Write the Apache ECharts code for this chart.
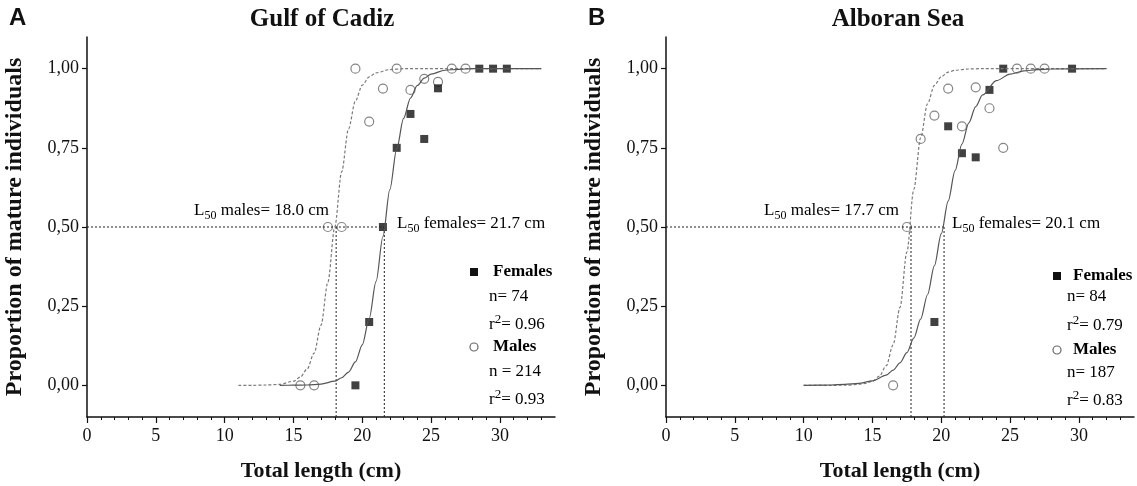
<!DOCTYPE html>
<html>
<head>
<meta charset="utf-8">
<title>L50 maturity ogives</title>
<script src="https://cdn.jsdelivr.net/npm/echarts@6/dist/echarts.min.js"></script>
<style>
  body { margin: 0; background: #fff; }
  #main { width: 1137px; height: 486px; }
</style>
</head>
<body>
<div id="main"></div>
<script>
// Gulf of Cadiz (panel A) - observed proportions [total length, proportion]
var gulfFemales = [[19.5, 0], [20.5, 0.2], [21.5, 0.5], [22.5, 0.75], [23.5, 0.857], [24.5, 0.778], [25.5, 0.938], [28.5, 1], [29.5, 1], [30.5, 1]]
var gulfMales = [[15.5, 0], [16.5, 0], [17.5, 0.5], [18.5, 0.5], [19.5, 1], [20.5, 0.833], [21.5, 0.937], [22.5, 1], [23.5, 0.933], [24.5, 0.968], [25.5, 0.958], [26.5, 1], [27.5, 1]]
// fitted ogives
var gulfFemaleFit = [[14, 0], [15, 0.0004], [16, 0.001], [17, 0.004], [18, 0.013], [18.5, 0.024], [19, 0.042], [19.5, 0.074], [20, 0.128], [20.5, 0.211], [21, 0.328], [21.5, 0.47], [22, 0.618], [22.5, 0.747], [23, 0.843], [23.5, 0.907], [24, 0.947], [24.5, 0.97], [25, 0.983], [26, 0.995], [27, 0.998], [28, 1], [33, 1]]
var gulfMaleFit = [[11, 0], [12, 0], [13, 0.001], [14, 0.003], [15, 0.013], [15.5, 0.026], [16, 0.052], [16.5, 0.102], [17, 0.19], [17.5, 0.326], [18, 0.5], [18.5, 0.674], [19, 0.81], [19.5, 0.898], [20, 0.948], [20.5, 0.974], [21, 0.987], [22, 0.997], [23, 1], [33, 1]]
var gulfL50 = [18.1, 21.6] // males, females (positions of the dotted guides)

// Alboran Sea (panel B)
var alboranFemales = [[19.5, 0.2], [20.5, 0.818], [21.5, 0.733], [22.5, 0.72], [23.5, 0.933], [24.5, 1], [29.5, 1]]
var alboranMales = [[16.5, 0], [17.5, 0.5], [18.5, 0.778], [19.5, 0.852], [20.5, 0.937], [21.5, 0.818], [22.5, 0.941], [23.5, 0.875], [24.5, 0.75], [25.5, 1], [26.5, 1], [27.5, 1]]
var alboranFemaleFit = [[10, 0], [11, 0.0005], [12, 0.001], [13, 0.003], [14, 0.006], [15, 0.014], [16, 0.032], [16.5, 0.048], [17, 0.071], [17.5, 0.103], [18, 0.149], [18.5, 0.209], [19, 0.286], [19.5, 0.378], [20, 0.479], [20.5, 0.582], [21, 0.678], [21.5, 0.762], [22, 0.829], [22.5, 0.88], [23, 0.917], [24, 0.962], [25, 0.983], [26, 0.993], [27, 0.997], [28, 0.999], [32, 1]]
var alboranMaleFit = [[10, 0], [12, 0], [13, 0.0005], [14, 0.003], [14.5, 0.006], [15, 0.013], [15.5, 0.029], [16, 0.062], [16.5, 0.128], [17, 0.246], [17.5, 0.421], [18, 0.618], [18.5, 0.782], [19, 0.889], [19.5, 0.947], [20, 0.975], [20.5, 0.989], [21, 0.995], [22, 0.999], [23, 1], [32, 1]]
var alboranL50 = [17.8, 20.2]

var xMajorTicks = [0, 5, 10, 15, 20, 25, 30]
var xMinorTicks = [1, 2, 3, 4, 6, 7, 8, 9, 11, 12, 13, 14, 16, 17, 18, 19, 21, 22, 23, 24, 26, 27, 28, 29, 31, 32, 33]
var yTicks = [0, 0.25, 0.5, 0.75, 1]

var serif = 'Liberation Serif'
var ink = '#111'

var chart = echarts.init(document.getElementById('main'))

function xAxisFor (grid) {
  return [{
    type: 'value', gridIndex: grid, min: 0, max: 34,
    name: 'Total length (cm)', nameLocation: 'middle', nameGap: 43,
    nameTextStyle: { fontFamily: serif, fontWeight: 'bold', fontSize: 22, color: ink },
    axisLine: { onZero: false, lineStyle: { color: ink, width: 1.5 } },
    axisTick: { customValues: xMajorTicks, length: 6, lineStyle: { color: ink, width: 1.2 } },
    axisLabel: { customValues: xMajorTicks, fontFamily: serif, fontSize: 18, color: ink, margin: 10 },
    splitLine: { show: false }
  }, {
    // second axis on the same grid, only for the minor ticks
    type: 'value', gridIndex: grid, min: 0, max: 34, position: 'bottom',
    axisLine: { show: false, onZero: false },
    axisTick: { customValues: xMinorTicks, length: 3, lineStyle: { color: ink, width: 1 } },
    axisLabel: { show: false },
    splitLine: { show: false }
  }]
}

function yAxisFor (grid) {
  return {
    type: 'value', gridIndex: grid, min: -0.1, max: 1.1,
    name: 'Proportion of mature individuals', nameLocation: 'middle', nameGap: 60,
    nameTextStyle: { fontFamily: serif, fontWeight: 'bold', fontSize: 24, color: ink },
    axisLine: { onZero: false, lineStyle: { color: ink, width: 1.5 } },
    axisTick: { customValues: yTicks, length: 5, lineStyle: { color: ink, width: 1.2 } },
    axisLabel: {
      customValues: yTicks, fontFamily: serif, fontSize: 18, color: ink, margin: 8,
      formatter: function (v) { return v.toFixed(2).replace('.', ',') }
    },
    splitLine: { show: false }
  }
}

function panelSeries (xIdx, yIdx, females, males, femaleFit, maleFit, l50) {
  var guide = { color: '#222', width: 1, type: [2, 2] }
  return [
    { type: 'line', xAxisIndex: xIdx, yAxisIndex: yIdx, data: [[0, 0.5], [l50[1], 0.5]], showSymbol: false, lineStyle: guide, silent: true },
    { type: 'line', xAxisIndex: xIdx, yAxisIndex: yIdx, data: [[l50[0], 0.5], [l50[0], -0.1]], showSymbol: false, lineStyle: guide, silent: true },
    { type: 'line', xAxisIndex: xIdx, yAxisIndex: yIdx, data: [[l50[1], 0.5], [l50[1], -0.1]], showSymbol: false, lineStyle: guide, silent: true },
    { name: 'Males fit', type: 'line', xAxisIndex: xIdx, yAxisIndex: yIdx, data: maleFit, showSymbol: false, smooth: 0.3, smoothMonotone: 'x', lineStyle: { color: '#7a7a7a', width: 1.2, type: [3, 2] } },
    { name: 'Females fit', type: 'line', xAxisIndex: xIdx, yAxisIndex: yIdx, data: femaleFit, showSymbol: false, smooth: 0.3, smoothMonotone: 'x', lineStyle: { color: '#555', width: 1.2 } },
    { name: 'Males', type: 'scatter', xAxisIndex: xIdx, yAxisIndex: yIdx, data: males, symbol: 'circle', symbolSize: 9, itemStyle: { color: '#fff', borderColor: '#666', borderWidth: 1.2 } },
    { name: 'Females', type: 'scatter', xAxisIndex: xIdx, yAxisIndex: yIdx, data: females, symbol: 'rect', symbolSize: 8, itemStyle: { color: ink } }
  ]
}

var rich = {
  t: { fontFamily: serif, fontSize: 17, color: ink, verticalAlign: 'middle' },
  b: { fontFamily: serif, fontSize: 17, fontWeight: 'bold', color: ink, verticalAlign: 'middle' },
  sub: { fontFamily: serif, fontSize: 12, color: ink, padding: [10, 0, 0, 0], verticalAlign: 'middle' },
  sup: { fontFamily: serif, fontSize: 13, color: ink, padding: [0, 0, 10, 0], verticalAlign: 'middle' }
}

function txt (x, y, text, align) {
  return { type: 'text', x: x, y: y, style: { text: text, rich: rich, align: align || 'left', verticalAlign: 'middle' } }
}

function legendBlock (symX, textX, statX, ys, nF, rF, nM, rM) {
  return [
    { type: 'rect', shape: { x: symX - 4, y: ys[0] - 4, width: 8, height: 8 }, style: { fill: ink } },
    txt(textX, ys[0], '{b|Females}'),
    txt(statX, ys[1], '{t|' + nF + '}'),
    txt(statX, ys[2], '{t|r}{sup|2}{t|= ' + rF + '}'),
    { type: 'circle', shape: { cx: symX, cy: ys[3], r: 4 }, style: { fill: '#fff', stroke: '#666', lineWidth: 1.2 } },
    txt(textX, ys[3], '{b|Males}'),
    txt(statX, ys[4], '{t|' + nM + '}'),
    txt(statX, ys[5], '{t|r}{sup|2}{t|= ' + rM + '}')
  ]
}

var option = {
  backgroundColor: '#fff',
  animation: false,
  title: [
    { text: 'Gulf of Cadiz', left: 322, top: 7, padding: 0, textAlign: 'center', textStyle: { fontFamily: serif, fontWeight: 'bold', fontSize: 25, color: ink } },
    { text: 'Alboran Sea', left: 898, top: 7, padding: 0, textAlign: 'center', textStyle: { fontFamily: serif, fontWeight: 'bold', fontSize: 25, color: ink } }
  ],
  grid: [
    { left: 87, top: 37, width: 468, height: 380, outerBoundsMode: 'none' },
    { left: 666, top: 37, width: 468, height: 380, outerBoundsMode: 'none' }
  ],
  xAxis: xAxisFor(0).concat(xAxisFor(1)),
  yAxis: [yAxisFor(0), yAxisFor(1)],
  series: panelSeries(0, 0, gulfFemales, gulfMales, gulfFemaleFit, gulfMaleFit, gulfL50)
    .concat(panelSeries(2, 1, alboranFemales, alboranMales, alboranFemaleFit, alboranMaleFit, alboranL50)),
  graphic: [
    { type: 'text', x: 9, y: 6, style: { text: 'A', fontFamily: 'Liberation Sans', fontWeight: 'bold', fontSize: 24, fill: ink } },
    { type: 'text', x: 588, y: 6, style: { text: 'B', fontFamily: 'Liberation Sans', fontWeight: 'bold', fontSize: 24, fill: ink } },
    txt(329, 211, '{t|L}{sub|50}{t| males= 18.0 cm}', 'right'),
    txt(397, 224, '{t|L}{sub|50}{t| females= 21.7 cm}'),
    txt(899, 211, '{t|L}{sub|50}{t| males= 17.7 cm}', 'right'),
    txt(952, 224, '{t|L}{sub|50}{t| females= 20.1 cm}')
  ].concat(legendBlock(474, 493, 489, [272, 297, 325, 347, 372, 400], 'n= 74', '0.96', 'n = 214', '0.93'))
    .concat(legendBlock(1057, 1073, 1067, [276, 297, 326, 350, 373, 401], 'n= 84', '0.79', 'n= 187', '0.83'))
}

chart.setOption(option)
</script>
</body>
</html>
